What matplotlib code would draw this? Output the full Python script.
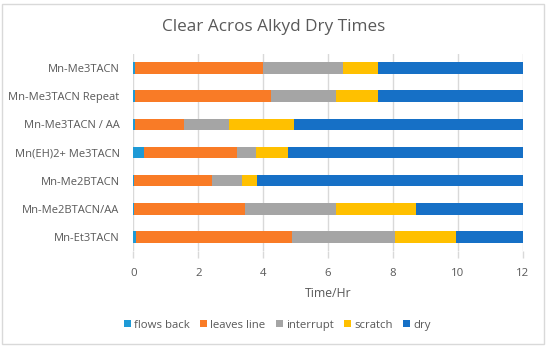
import numpy as np
import matplotlib.pyplot as plt
from matplotlib.patches import Rectangle

categories = ["Mn-Me3TACN", "Mn-Me3TACN Repeat", "Mn-Me3TACN / AA", "Mn(EH)2+ Me3TACN",
              "Mn-Me2BTACN", "Mn-Me2BTACN/AA", "Mn-Et3TACN"]
flows_back = [0.05, 0.05, 0.05, 0.32, 0.02, 0.02, 0.08]
leaves_line = [3.95, 4.18, 1.51, 2.87, 2.39, 3.42, 4.80]
interrupt = [2.46, 2.03, 1.40, 0.58, 0.95, 2.82, 3.19]
scratch = [1.07, 1.27, 2.00, 0.99, 0.45, 2.44, 1.88]
dry = [4.47, 4.47, 7.04, 7.24, 8.19, 3.30, 2.05]

series = [("flows back", flows_back, "#1E9AD6"),
          ("leaves line", leaves_line, "#F97B26"),
          ("interrupt", interrupt, "#A5A5A5"),
          ("scratch", scratch, "#FFC000"),
          ("dry", dry, "#1670C6")]

plt.rcParams['font.family'] = ['Open Sans', 'DejaVu Sans']
txt = "#595959"

fig = plt.figure(figsize=(5.5, 3.51), dpi=100)
ax = fig.add_axes([0.2427, 0.285, 0.7073, 0.561])

y = np.arange(len(categories))
left = np.zeros(len(categories))
for name, vals, col in series:
    ax.barh(y, vals, left=left, height=0.41, color=col, label=name, zorder=3)
    left += np.array(vals)

ax.set_ylim(len(categories) - 0.5, -0.5)
ax.set_xlim(0, 12)
ax.set_xticks(range(0, 13, 2))
ax.set_yticks(y)
ax.set_yticklabels(categories)
ax.grid(axis='x', color='#D9D9D9', linewidth=1, zorder=0)
for s in ax.spines.values():
    s.set_visible(False)
ax.tick_params(axis='y', length=0, colors=txt, labelsize=8, pad=10)
ax.tick_params(axis='x', length=5, width=1, color='#D9D9D9', labelcolor=txt,
               labelsize=8.2, pad=7)
ax.set_xlabel("Time/Hr", color=txt, fontsize=8.8, labelpad=6)

fig.text(0.497, 0.923, "Clear Acros Alkyd Dry Times", ha='center', va='center',
         fontsize=12.3, color=txt)

leg = fig.legend(loc='center', bbox_to_anchor=(0.504, 0.073), ncol=5, frameon=False,
                 fontsize=8.2, handlelength=0.6, handleheight=0.6, handletextpad=0.3,
                 columnspacing=0.9)
for t in leg.get_texts():
    t.set_color(txt)

fig.patches.append(Rectangle((0.004, 0.02), 0.985, 0.97, transform=fig.transFigure,
                             fill=False, edgecolor='#D9D9D9', linewidth=1))

fig.savefig("out.png", dpi=100)
